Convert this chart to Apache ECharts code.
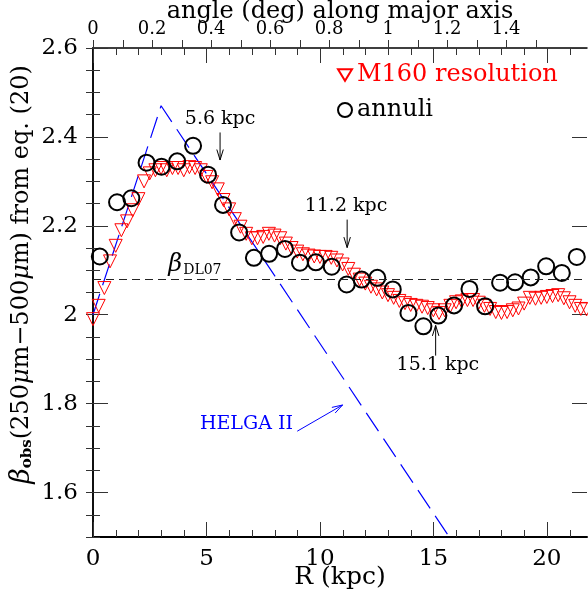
<!DOCTYPE html>
<html>
<head>
<meta charset="utf-8">
<script src="https://cdn.jsdelivr.net/npm/echarts@6/dist/echarts.min.js"></script>
<style>
  html, body { margin: 0; padding: 0; background: #fff; }
  #chart { width: 588px; height: 594px; }
</style>
</head>
<body>
<div id="chart"></div>
<script>
// annuli (black open circles)
const annuliR = [0.3, 1.06, 1.69, 2.36, 3.02, 3.71, 4.41, 5.07, 5.73, 6.44, 7.09, 7.76, 8.46, 9.12, 9.82, 10.52,
  11.18, 11.84, 12.53, 13.21, 13.9, 14.56, 15.22, 15.91, 16.59, 17.28, 17.94, 18.6, 19.29, 19.97, 20.66, 21.32];
const annuliBeta = [2.131, 2.253, 2.262, 2.342, 2.333, 2.345, 2.38, 2.315, 2.247, 2.185, 2.128, 2.137, 2.148, 2.117, 2.118, 2.108,
  2.068, 2.079, 2.083, 2.057, 2.004, 1.974, 1.998, 2.021, 2.058, 2.019, 2.072, 2.073, 2.084, 2.109, 2.094, 2.13];

// M160 resolution profile (red open triangles)
const m160R = [0, 0.25, 0.5, 0.75, 1, 1.25, 1.5, 1.75, 2, 2.25, 2.5, 2.75, 3, 3.25, 3.5, 3.75, 4, 4.25, 4.5, 4.75,
  5, 5.25, 5.5, 5.75, 6, 6.25, 6.5, 6.75, 7, 7.25, 7.5, 7.75, 8, 8.25, 8.5, 8.75, 9, 9.25, 9.5, 9.75,
  10, 10.25, 10.5, 10.75, 11, 11.25, 11.5, 11.75, 12, 12.25, 12.5, 12.75, 13, 13.25, 13.5, 13.75, 14, 14.25, 14.5, 14.75,
  15, 15.25, 15.5, 15.75, 16, 16.25, 16.5, 16.75, 17, 17.25, 17.5, 17.75, 18, 18.25, 18.5, 18.75, 19, 19.25, 19.5, 19.75,
  20, 20.25, 20.5, 20.75, 21, 21.25, 21.5, 21.75];
const m160Beta = [1.99, 2.02, 2.06, 2.12, 2.155, 2.19, 2.21, 2.235, 2.26, 2.3, 2.318, 2.325, 2.33, 2.325, 2.33, 2.33, 2.325, 2.332, 2.33, 2.325,
  2.31, 2.298, 2.282, 2.258, 2.237, 2.215, 2.198, 2.182, 2.172, 2.172, 2.175, 2.182, 2.178, 2.172, 2.16, 2.15, 2.142, 2.136, 2.133, 2.131,
  2.13, 2.13, 2.128, 2.122, 2.113, 2.103, 2.09, 2.079, 2.07, 2.063, 2.057, 2.05, 2.044, 2.038, 2.031, 2.026, 2.022, 2.02, 2.018, 2.015,
  2.01, 2.004, 2.01, 2.02, 2.028, 2.03, 2.033, 2.033, 2.027, 2.02, 2.013, 2.006, 2.004, 2.006, 2.01, 2.014, 2.025, 2.038, 2.036, 2.038,
  2.04, 2.042, 2.044, 2.037, 2.028, 2.02, 2.013, 2.012];

// HELGA II model (blue dashed)
const helgaR = [0, 3.0, 15.7];
const helgaBeta = [2.0, 2.47, 1.5];

const betaDL07 = 2.08;

// axis ranges and ticks
const rMax = 21.77;
const angleMax = 1.674;
const betaMin = 1.5, betaMax = 2.6;
const rMajorTicks = [0, 5, 10, 15, 20];
const rMinorTicks = [1, 2, 3, 4, 6, 7, 8, 9, 11, 12, 13, 14, 16, 17, 18, 19, 21];
const angleTicks = [0, 0.1, 0.2, 0.3, 0.4, 0.5, 0.6, 0.7, 0.8, 0.9, 1, 1.1, 1.2, 1.3, 1.4, 1.5];
const angleLabels = [0, 0.2, 0.4, 0.6, 0.8, 1, 1.2, 1.4];
// beta tick slots every 0.05 (used by a category tick axis), labelled ones below
const betaSlots = ['1.5', '1.55', '1.6', '1.65', '1.7', '1.75', '1.8', '1.85', '1.9', '1.95', '2', '2.05',
  '2.1', '2.15', '2.2', '2.25', '2.3', '2.35', '2.4', '2.45', '2.5', '2.55', '2.6'];
const betaLabels = ['1.6', '1.8', '2', '2.2', '2.4', '2.6'];

// annotations
const noteText = ['5.6 kpc', '11.2 kpc', '15.1 kpc', 'HELGA II', '{b|β}{s|DL07}'];
const noteR = [5.6, 11.15, 15.2, 6.76, 4.49];
const noteBeta = [2.44, 2.245, 1.886, 1.753, 2.113];
const noteColor = ['#000', '#000', '#000', '#0000ff', '#000'];
const arrowFromR = [5.6, 11.2, 15.1, 9.0];
const arrowFromBeta = [2.41, 2.214, 1.908, 1.738];
const arrowToR = [5.6, 11.2, 15.1, 11.0];
const arrowToBeta = [2.348, 2.151, 1.976, 1.797];
const arrowColor = ['#000', '#000', '#000', '#0000ff'];

const FONT = 'DejaVu Serif';
const zip = (a, b) => a.map((v, i) => [v, b[i]]);
const isBetaLabel = (idx, val) => betaLabels.indexOf(val) >= 0;

function valueAxis(extra) {
  return Object.assign({
    type: 'value',
    nameMoveOverlap: false,
    axisLine: { show: true, lineStyle: { color: '#000', width: 1.5 } },
    axisTick: { show: false },
    axisLabel: { show: false },
    splitLine: { show: false }
  }, extra);
}

// tick marks along the top / bottom frame, placed through the axis scale
function tickSeries(values, xAxisIndex, len, side) {
  return {
    type: 'custom',
    xAxisIndex: xAxisIndex,
    yAxisIndex: 0,
    silent: true,
    clip: false,
    z: 5,
    encode: { x: 0, y: 1 },
    data: values.map(v => [v, side === 'bottom' ? betaMin : betaMax]),
    renderItem: function (params, api) {
      const p = api.coord([api.value(0), api.value(1)]);
      const x = Math.round(p[0]) + 0.5;
      const y1 = p[1];
      const y2 = side === 'topIn' ? y1 + len : y1 - len;
      return {
        type: 'line',
        shape: { x1: x, y1: y1, x2: x, y2: y2 },
        style: { stroke: '#333', lineWidth: 1, fill: null }
      };
    }
  };
}

function renderArrow(params, api) {
  const p0 = api.coord([api.value(0), api.value(1)]);
  const p1 = api.coord([api.value(2), api.value(3)]);
  const ang = Math.atan2(p1[1] - p0[1], p1[0] - p0[0]);
  const len = 11, spread = 0.3;
  const h1 = [p1[0] - len * Math.cos(ang - spread), p1[1] - len * Math.sin(ang - spread)];
  const h2 = [p1[0] - len * Math.cos(ang + spread), p1[1] - len * Math.sin(ang + spread)];
  const color = arrowColor[params.dataIndex];
  return {
    type: 'group',
    children: [
      { type: 'line', shape: { x1: p0[0], y1: p0[1], x2: p1[0], y2: p1[1] }, style: { stroke: color, lineWidth: 1 } },
      { type: 'polyline', shape: { points: [h1, p1, h2] }, style: { stroke: color, fill: null, lineWidth: 1 } }
    ]
  };
}

function renderNote(params, api) {
  const p = api.coord([api.value(0), api.value(1)]);
  const i = params.dataIndex;
  return {
    type: 'text',
    x: p[0],
    y: p[1],
    style: {
      text: noteText[i],
      fill: noteColor[i],
      font: '19px ' + FONT,
      align: 'center',
      verticalAlign: 'middle',
      rich: {
        b: { fontFamily: FONT, fontSize: 24, fontStyle: 'italic', fill: '#000' },
        s: { fontFamily: FONT, fontSize: 14, fill: '#000', padding: [12, 0, 0, 1] }
      }
    }
  };
}

const chart = echarts.init(document.getElementById('chart'), null, { renderer: 'canvas' });

chart.setOption({
  animation: false,
  backgroundColor: '#fff',
  textStyle: { fontFamily: FONT },
  grid: { left: 93, right: 1, top: 48, bottom: 57, containLabel: false, outerBoundsMode: 'none' },
  legend: {
    orient: 'vertical',
    left: 332,
    top: 58,
    itemWidth: 14,
    itemHeight: 14,
    itemGap: 11,
    textStyle: { fontFamily: FONT, fontSize: 24, lineHeight: 24 },
    data: [
      { name: 'M160 resolution', icon: 'path://M0,0 L12,0 L6,10 Z', textStyle: { color: '#ff0000' } },
      { name: 'annuli', textStyle: { color: '#000' } }
    ]
  },
  xAxis: [
    valueAxis({
      position: 'bottom', min: 0, max: rMax, interval: 5,
      axisLine: { show: true, lineStyle: { color: '#000', width: 2 } },
      axisLabel: { show: true, showMaxLabel: false, fontSize: 23, color: '#000', fontFamily: FONT, margin: 11 },
      name: 'R (kpc)', nameLocation: 'middle', nameGap: 28,
      nameTextStyle: { fontSize: 25, color: '#000', fontFamily: FONT }
    }),
    valueAxis({ position: 'top', min: 0, max: rMax }),
    valueAxis({
      position: 'top', min: 0, max: angleMax, interval: 0.1, axisLine: { show: false },
      axisLabel: { show: true, customValues: angleLabels, fontSize: 18, color: '#000', fontFamily: FONT, margin: 10 },
      name: 'angle (deg) along major axis', nameLocation: 'middle', nameGap: 24,
      nameTextStyle: { fontSize: 24, color: '#000', fontFamily: FONT }
    })
  ],
  yAxis: [
    valueAxis({
      position: 'left', min: betaMin, max: betaMax, interval: 0.05,
      axisTick: { show: true, inside: true, length: 7, lineStyle: { color: '#333' } },
      name: '{b|β}{s|obs}{t|(250}{m|μ}{t|m−500}{m|μ}{t|m) from eq. (20)}',
      nameLocation: 'middle', nameGap: 58,
      nameTextStyle: {
        color: '#000', fontFamily: FONT, fontSize: 24, padding: [0, 0, 0, 36],
        rich: {
          b: { fontFamily: FONT, fontSize: 27, fontStyle: 'italic', color: '#000' },
          s: { fontFamily: FONT, fontSize: 15, fontWeight: 'bold', color: '#000', padding: [11, 0, 0, 0] },
          t: { fontFamily: FONT, fontSize: 24, color: '#000' },
          m: { fontFamily: FONT, fontSize: 24, fontStyle: 'italic', color: '#000' }
        }
      }
    }),
    valueAxis({
      position: 'right', min: betaMin, max: betaMax, interval: 0.05,
      axisTick: { show: true, inside: true, length: 7, lineStyle: { color: '#333' } }
    }),
    // major beta ticks + labels through a category axis laid over the same span
    {
      type: 'category', position: 'left', data: betaSlots, boundaryGap: false,
      axisLine: { show: false }, splitLine: { show: false },
      axisTick: { show: true, inside: true, length: 15, interval: isBetaLabel, lineStyle: { color: '#333' } },
      axisLabel: { show: true, interval: isBetaLabel, fontSize: 23, color: '#000', fontFamily: FONT, margin: 15 }
    },
    {
      type: 'category', position: 'right', data: betaSlots, boundaryGap: false,
      axisLine: { show: false }, splitLine: { show: false },
      axisTick: { show: true, inside: true, length: 15, interval: isBetaLabel, lineStyle: { color: '#333' } },
      axisLabel: { show: false }
    }
  ],
  series: [
    {
      name: 'HELGA II',
      type: 'line',
      data: zip(helgaR, helgaBeta),
      showSymbol: false,
      silent: true,
      clip: true,
      lineStyle: { color: '#0000ff', width: 1.2, type: [22, 9] },
      z: 1
    },
    {
      name: 'M160 resolution',
      type: 'scatter',
      data: zip(m160R, m160Beta),
      symbol: 'triangle',
      symbolRotate: 180,
      symbolSize: 13,
      itemStyle: { color: 'rgba(0,0,0,0)', borderColor: '#ff0000', borderWidth: 1, opacity: 1 },
      z: 2
    },
    {
      name: 'annuli',
      type: 'scatter',
      data: zip(annuliR, annuliBeta),
      symbol: 'circle',
      symbolSize: 16,
      itemStyle: { color: 'rgba(0,0,0,0)', borderColor: '#000', borderWidth: 2, opacity: 1 },
      markLine: {
        silent: true,
        symbol: 'none',
        label: { show: false },
        lineStyle: { color: '#222', width: 1, type: [8, 5] },
        data: [{ yAxis: betaDL07 }]
      },
      z: 3
    },
    {
      type: 'custom',
      renderItem: renderArrow,
      encode: { x: [0, 2], y: [1, 3] },
      data: arrowFromR.map((r, i) => [r, arrowFromBeta[i], arrowToR[i], arrowToBeta[i]]),
      clip: false,
      silent: true,
      z: 4
    },
    {
      type: 'custom',
      renderItem: renderNote,
      encode: { x: 0, y: 1 },
      data: zip(noteR, noteBeta),
      clip: false,
      silent: true,
      z: 4
    },
    tickSeries(rMajorTicks, 0, 15, 'bottom'),
    tickSeries(rMinorTicks, 0, 7, 'bottom'),
    tickSeries(rMajorTicks, 0, 15, 'topIn'),
    tickSeries(rMinorTicks, 0, 7, 'topIn'),
    tickSeries(angleTicks, 2, 8, 'topOut')
  ]
});
</script>
</body>
</html>
